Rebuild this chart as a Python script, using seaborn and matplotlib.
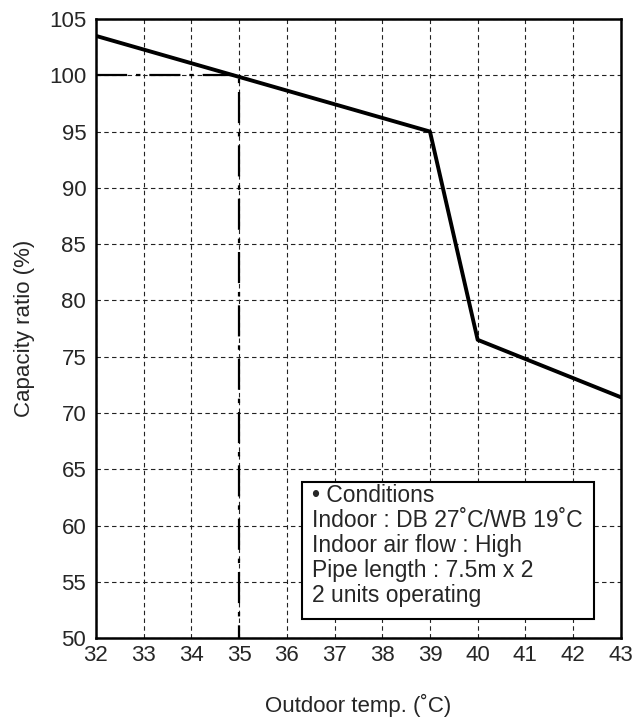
import pandas as pd
import matplotlib.pyplot as plt
import seaborn as sns
from matplotlib.patches import Rectangle

# capacity curve
temps = [32, 39, 40, 43]
capacity = [103.5, 95.0, 76.5, 71.4]

# reference dash-dot guide (35 C -> 100 %)
ref_x = [32, 35, 35]
ref_y = [100, 100, 50]

x_ticks = list(range(32, 44))
y_ticks = list(range(50, 106, 5))

conditions = ["\u2022 Conditions",
              "Indoor : DB 27\u02daC/WB 19\u02daC",
              "Indoor air flow : High",
              "Pipe length : 7.5m x 2",
              "2 units operating"]

sns.set_style("white")
plt.rcParams['font.family'] = ['Liberation Sans', 'DejaVu Sans']

df = pd.DataFrame({'temp': temps, 'cap': capacity})

fig = plt.figure(figsize=(6.44, 7.17), dpi=100)
ax = fig.add_axes([0.149, 0.110, 0.815, 0.8635])

sns.lineplot(data=df, x='temp', y='cap', color='black', linewidth=2.8, ax=ax)
ax.plot(ref_x, ref_y, color='black', linewidth=1.6, dashes=[14, 4, 2, 4])

ax.set_xlim(32, 43)
ax.set_ylim(50, 105)
ax.set_xticks(x_ticks)
ax.set_yticks(y_ticks)
ax.tick_params(axis='both', labelsize=16, length=0)
ax.tick_params(axis='x', pad=5)
ax.tick_params(axis='y', pad=7)
ax.grid(True, color='#222222', linestyle=(0, (4, 3)), linewidth=0.8)
for s in ax.spines.values():
    s.set_color('black')
    s.set_linewidth(1.8)

ax.set_xlabel("Outdoor temp. (\u02daC)", fontsize=16, labelpad=20)
ax.set_ylabel("Capacity ratio (%)", fontsize=16, labelpad=10)

box = Rectangle((36.32, 51.7), 6.11, 12.2, facecolor='white', edgecolor='black',
                linewidth=1.5, zorder=5)
ax.add_patch(box)
ax.text(36.52, 63.66, "\n".join(conditions), fontsize=16.5, va='top', ha='left',
        linespacing=1.1, zorder=6)

fig.savefig("out.png", dpi=100)
